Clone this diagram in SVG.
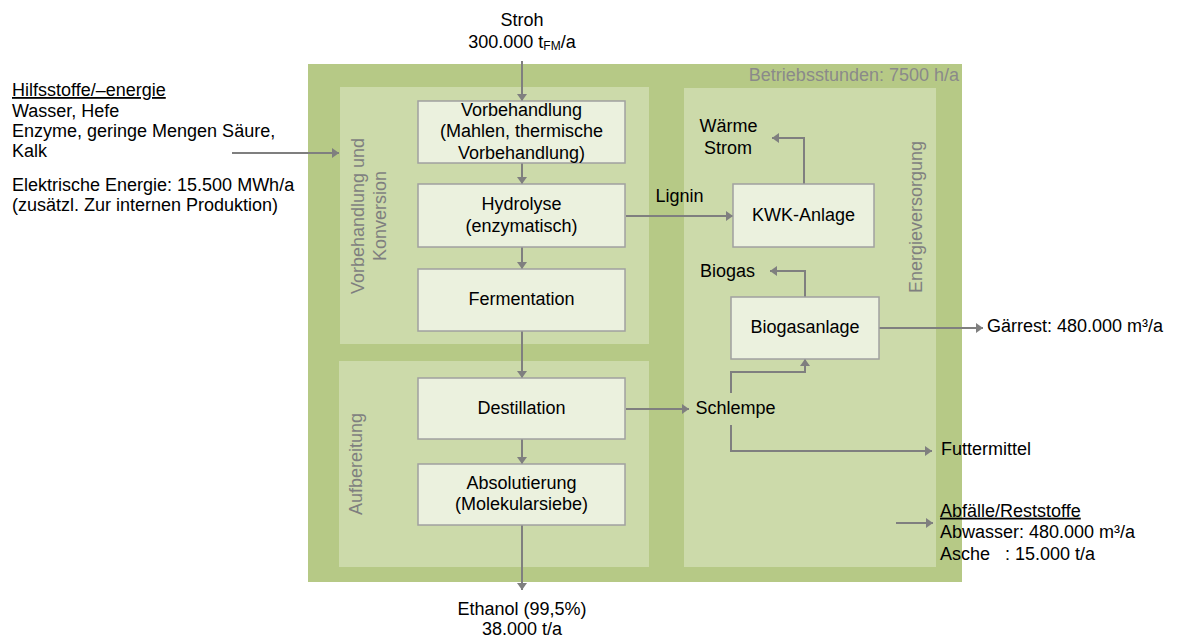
<svg xmlns="http://www.w3.org/2000/svg" width="1192" height="638" viewBox="0 0 1192 638">
<defs>
<style>
text{font-family:"Liberation Sans",Arial,sans-serif;font-size:18px;fill:#000}
.c{text-anchor:middle}
.g{fill:#7f7f7f}
.box{fill:#ebf1de;stroke:#a0a0a0;stroke-width:1.5}
.con{fill:none;stroke:#7f7f7f;stroke-width:2}
.u{text-decoration:underline}
</style>
<marker id="ah" markerUnits="userSpaceOnUse" viewBox="0 0 7 10" refX="7" refY="5" markerWidth="7" markerHeight="10" orient="auto">
<path d="M0,0 L7,5 L0,10 z" fill="#7f7f7f"/>
</marker>
</defs>
<rect width="1192" height="638" fill="#fff"/>
<g id="panels">
<rect x="308" y="64" width="654" height="518" fill="#b6c986"/>
<rect x="340" y="87" width="309" height="257" fill="#ccdaaa"/>
<rect x="339" y="361" width="310" height="206" fill="#ccdaaa"/>
<rect x="684" y="88" width="252" height="479" fill="#ccdaaa"/>
<text x="959" y="81" text-anchor="end" style="fill:#8a8a8a">Betriebsstunden: 7500 h/a</text>
<text class="c g" transform="translate(364,216) rotate(-90)">Vorbehandlung und</text>
<text class="c g" transform="translate(386,216) rotate(-90)">Konversion</text>
<text class="c g" transform="translate(362,464) rotate(-90)">Aufbereitung</text>
<text class="c g" transform="translate(922,217) rotate(-90)">Energieversorgung</text>
</g>
<g id="connectors">
<path class="con" d="M522,61 V101" marker-end="url(#ah)"/>
<path class="con" d="M232,153 H339" marker-end="url(#ah)"/>
<path class="con" d="M522,163 V184" marker-end="url(#ah)"/>
<path class="con" d="M522,247 V269" marker-end="url(#ah)"/>
<path class="con" d="M522,331 V378" marker-end="url(#ah)"/>
<path class="con" d="M522,439 V464" marker-end="url(#ah)"/>
<path class="con" d="M522,525 V590" marker-end="url(#ah)"/>
<path class="con" d="M626,216 H733" marker-end="url(#ah)"/>
<path class="con" d="M804,184 V138 H772" marker-end="url(#ah)"/>
<path class="con" d="M805,297 V271 H770" marker-end="url(#ah)"/>
<path class="con" d="M879,328 H983" marker-end="url(#ah)"/>
<path class="con" d="M626,409 H689" marker-end="url(#ah)"/>
<path class="con" d="M731,393 V372 H805 V359" marker-end="url(#ah)"/>
<path class="con" d="M731,425 V451 H932" marker-end="url(#ah)"/>
<path class="con" d="M896,523 H933" marker-end="url(#ah)"/>
</g>
<g id="vorbehandlung">
<rect class="box" x="418" y="101" width="207" height="62"/>
<text class="c" x="521.5" y="115.5">Vorbehandlung</text>
<text class="c" x="521.5" y="137">(Mahlen, thermische</text>
<text class="c" x="521.5" y="158.5">Vorbehandlung)</text>
</g>
<g id="hydrolyse">
<rect class="box" x="418" y="184" width="207" height="63"/>
<text class="c" x="521.5" y="210">Hydrolyse</text>
<text class="c" x="521.5" y="231.5">(enzymatisch)</text>
</g>
<g id="fermentation">
<rect class="box" x="418" y="269" width="207" height="62"/>
<text class="c" x="521.5" y="305">Fermentation</text>
</g>
<g id="destillation">
<rect class="box" x="418" y="378" width="207" height="61"/>
<text class="c" x="521.5" y="414">Destillation</text>
</g>
<g id="absolutierung">
<rect class="box" x="418" y="464" width="207" height="61"/>
<text class="c" x="521.5" y="489">Absolutierung</text>
<text class="c" x="521.5" y="510">(Molekularsiebe)</text>
</g>
<g id="kwk">
<rect class="box" x="733" y="184" width="141" height="63"/>
<text class="c" x="803.5" y="221">KWK-Anlage</text>
</g>
<g id="biogasanlage">
<rect class="box" x="731" y="297" width="148" height="62"/>
<text class="c" x="805" y="333">Biogasanlage</text>
</g>
<g id="stroh">
<text class="c" x="522" y="26">Stroh</text>
<text class="c" x="522" y="47.5">300.000 t<tspan font-size="12" dy="2">FM</tspan><tspan dy="-2">/a</tspan></text>
</g>
<g id="hilfsstoffe">
<text x="12" y="96" class="u">Hilfsstoffe/–energie</text>
<text x="12" y="116.5">Wasser, Hefe</text>
<text x="12" y="137">Enzyme, geringe Mengen Säure,</text>
<text x="12" y="157.3">Kalk</text>
<text x="12" y="190.5">Elektrische Energie: 15.500 MWh/a</text>
<text x="12" y="211">(zusätzl. Zur internen Produktion)</text>
</g>
<g id="ethanol">
<text class="c" x="522" y="615">Ethanol (99,5%)</text>
<text class="c" x="522" y="635">38.000 t/a</text>
</g>
<g id="labels">
<text x="655.5" y="201.5">Lignin</text>
<text class="c" x="728.5" y="131.7">Wärme</text>
<text class="c" x="728" y="154">Strom</text>
<text x="700" y="277.3">Biogas</text>
<text x="695.5" y="413.5">Schlempe</text>
<text x="987" y="331.7">Gärrest: 480.000 m³/a</text>
<text x="941" y="455">Futtermittel</text>
</g>
<g id="abfaelle">
<text x="940" y="516.7" class="u">Abfälle/Reststoffe</text>
<text x="940" y="538.3">Abwasser: 480.000 m³/a</text>
<text x="940" y="560" style="white-space:pre">Asche   : 15.000 t/a</text>
</g>
</svg>
